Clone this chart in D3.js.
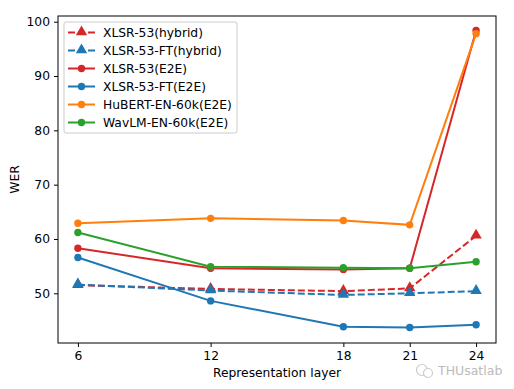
<!DOCTYPE html>
<html>
<head>
<meta charset="utf-8">
<script src="https://cdn.jsdelivr.net/npm/d3@7"></script>
<style>
  body { margin: 0; background: #fff; }
  text { font-family: "DejaVu Sans", sans-serif; }
</style>
</head>
<body>
<div id="chart"></div>
<script>
var layers = [6, 12, 18, 21, 24];
var yTicks = [50, 60, 70, 80, 90, 100];

var xlsrHybrid   = [51.5, 50.8, 50.4, 50.9, 60.6];
var xlsrFtHybrid = [51.6, 50.5, 49.7, 50.0, 50.4];
var xlsrE2E      = [58.3, 54.6, 54.4, 54.6, 98.4];
var xlsrFtE2E    = [56.6, 48.6, 43.85, 43.7, 44.2];
var hubertE2E    = [62.9, 63.8, 63.4, 62.6, 97.8];
var wavlmE2E     = [61.2, 54.9, 54.7, 54.6, 55.8];

var series = [
  {name: "XLSR-53(hybrid)",    values: xlsrHybrid,   color: "#d62728", dash: true,  marker: "tri"},
  {name: "XLSR-53-FT(hybrid)", values: xlsrFtHybrid, color: "#1f77b4", dash: true,  marker: "tri"},
  {name: "XLSR-53(E2E)",       values: xlsrE2E,      color: "#d62728", dash: false, marker: "dot"},
  {name: "XLSR-53-FT(E2E)",    values: xlsrFtE2E,    color: "#1f77b4", dash: false, marker: "dot"},
  {name: "HuBERT-EN-60k(E2E)", values: hubertE2E,    color: "#ff7f0e", dash: false, marker: "dot"},
  {name: "WavLM-EN-60k(E2E)",  values: wavlmE2E,     color: "#2ca02c", dash: false, marker: "dot"}
];

var W = 514, H = 389;
var fs = 12.3;
var margin = {top: 16, right: 18, bottom: 46, left: 58};
var width = W - margin.left - margin.right,
    height = H - margin.top - margin.bottom;

var svg = d3.select("#chart").append("svg")
    .attr("width", W).attr("height", H);
var g = svg.append("g")
    .attr("transform", "translate(" + margin.left + "," + margin.top + ")");

var x = d3.scaleLinear().domain([5.1, 24.9]).range([0, width]);
var y = d3.scaleLinear().domain([40.85, 101.05]).range([height, 0]);

var line = d3.line()
    .x(function(d, i) { return x(layers[i]); })
    .y(function(d) { return y(d); });

var tri = d3.symbol().type(d3.symbolTriangle).size(56);

series.forEach(function(s) {
  g.append("path")
    .datum(s.values)
    .attr("fill", "none")
    .attr("stroke", s.color)
    .attr("stroke-width", 2)
    .attr("stroke-dasharray", s.dash ? "7,3" : null)
    .attr("d", line);
  if (s.marker == "dot") {
    g.selectAll(null).data(s.values).enter().append("circle")
      .attr("cx", function(d, i) { return x(layers[i]); })
      .attr("cy", function(d) { return y(d); })
      .attr("r", 3.7)
      .attr("fill", s.color);
  } else {
    g.selectAll(null).data(s.values).enter().append("path")
      .attr("d", tri)
      .attr("transform", function(d, i) { return "translate(" + x(layers[i]) + "," + (y(d) - 0.5) + ")"; })
      .attr("fill", s.color);
  }
});

// axes
var xAxis = g.append("g")
    .attr("transform", "translate(0," + height + ")")
    .call(d3.axisBottom(x).tickValues(layers).tickSize(4).tickPadding(4));
var yAxis = g.append("g")
    .call(d3.axisLeft(y).tickValues(yTicks).tickSize(4).tickPadding(4));
[xAxis, yAxis].forEach(function(a) {
  a.selectAll("text").attr("font-size", fs).attr("fill", "#000")
    .attr("font-family", "DejaVu Sans, sans-serif");
  a.select(".domain").remove();
});

g.append("rect")
  .attr("width", width).attr("height", height)
  .attr("fill", "none").attr("stroke", "#000").attr("stroke-width", 1);

svg.append("text")
  .attr("x", margin.left + width / 2).attr("y", 377)
  .attr("text-anchor", "middle").attr("font-size", fs)
  .text("Representation layer");
svg.append("text")
  .attr("transform", "translate(19," + (margin.top + height / 2) + ") rotate(-90)")
  .attr("text-anchor", "middle").attr("font-size", fs)
  .text("WER");

// legend
var legend = g.append("g").attr("transform", "translate(6,6)");
legend.append("rect")
  .attr("width", 173).attr("height", 111)
  .attr("rx", 2).attr("fill", "#fff").attr("fill-opacity", 0.8)
  .attr("stroke", "#ccc").attr("stroke-width", 1);
var item = legend.selectAll("g.item").data(series).enter().append("g")
  .attr("class", "item")
  .attr("transform", function(d, i) { return "translate(0," + (10.5 + i * 18) + ")"; });
item.append("line")
  .attr("x1", 4).attr("x2", 31)
  .attr("stroke", function(d) { return d.color; })
  .attr("stroke-width", 2)
  .attr("stroke-dasharray", function(d) { return d.dash ? "7,3" : null; });
item.each(function(d) {
  var el = d3.select(this);
  if (d.marker == "dot") {
    el.append("circle").attr("cx", 17.5).attr("r", 3.7).attr("fill", d.color);
  } else {
    el.append("path").attr("d", tri).attr("transform", "translate(17.5,-0.5)").attr("fill", d.color);
  }
});
item.append("text")
  .attr("x", 39).attr("dy", "0.35em")
  .attr("font-size", fs)
  .text(function(d) { return d.name; });

// watermark
var wm = svg.append("g").attr("transform", "translate(422,370)");
wm.append("circle").attr("cx", 0).attr("cy", 0).attr("r", 5.5)
  .attr("fill", "none").attr("stroke", "#ccc").attr("stroke-width", 1.2);
wm.append("circle").attr("cx", 6).attr("cy", 3).attr("r", 4.5)
  .attr("fill", "#fff").attr("stroke", "#ccc").attr("stroke-width", 1.2);
wm.append("text").attr("x", 16).attr("y", 4.5)
  .attr("font-size", 12.5).attr("fill", "#bbb")
  .attr("font-family", "Noto Sans, sans-serif")
  .text("THUsatlab");
</script>
</body>
</html>
